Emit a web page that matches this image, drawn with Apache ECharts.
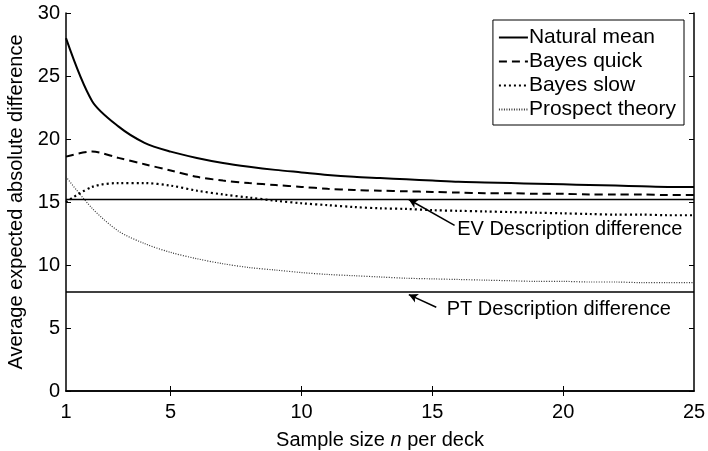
<!DOCTYPE html>
<html lang="en" style="height: 100%">
<head>
    <meta charset="UTF-8">
    <title>Average expected absolute difference</title>
    <style>
        #main{
            width: 708px;
            height: 451px;
        }
    </style>
    <script type="text/javascript" src="https://cdn.jsdelivr.net/npm/echarts@6.0.0/dist/echarts.min.js"></script>
</head>
<body style="margin: 0; background: #fff">
<div id="main"></div>
<script>
    // sample size n per deck
    var sampleSize = [1, 2, 3, 4, 5, 6, 7, 8, 9, 10, 11, 12, 13, 14, 15, 16, 17, 18, 19, 20, 21, 22, 23, 24, 25];

    var naturalMean = [28.0, 23.0, 21.0, 19.7, 19.0, 18.5, 18.1, 17.8, 17.55, 17.35, 17.15, 17.0, 16.9,
        16.8, 16.7, 16.6, 16.55, 16.5, 16.45, 16.4, 16.35, 16.3, 16.25, 16.2, 16.2];
    var bayesQuick = [18.6, 19.0, 18.5, 18.0, 17.5, 17.0, 16.7, 16.5, 16.35, 16.2, 16.05, 15.95, 15.9,
        15.85, 15.8, 15.75, 15.7, 15.7, 15.65, 15.65, 15.6, 15.6, 15.6, 15.55, 15.55];
    var bayesSlow = [15.0, 16.2, 16.5, 16.5, 16.3, 15.9, 15.6, 15.35, 15.1, 14.9, 14.75, 14.6, 14.5,
        14.45, 14.35, 14.3, 14.25, 14.2, 14.15, 14.1, 14.05, 14.0, 14.0, 13.95, 13.95];
    var prospectTheory = [17.0, 14.5, 12.7, 11.7, 11.0, 10.5, 10.1, 9.8, 9.6, 9.4, 9.25, 9.15, 9.05,
        8.95, 8.9, 8.85, 8.8, 8.75, 8.7, 8.7, 8.65, 8.65, 8.6, 8.6, 8.6];

    // horizontal reference levels
    var evDescription = 15.2;
    var ptDescription = 7.85;

    // annotations: [tail, head] of arrow, and where the text starts
    var evArrow = [[15.85, 13.15], [14.1, 15.2]];
    var ptArrow = [[15.15, 6.65], [14.1, 7.65]];
    var evTextAt = [15.95, 12.85];
    var ptTextAt = [15.55, 6.45];

    var xLabelTicks = [1, 5, 10, 15, 20, 25];
    var xInnerTicks = [5, 10, 15, 20];

    var chart = echarts.init(document.getElementById('main'));
    var font = 'Liberation Sans, Arial, Helvetica, sans-serif';

    function pairs(vals) {
        return sampleSize.map(function (n, i) { return [n, vals[i]]; });
    }
    function flat(v) {
        return [[sampleSize[0], v], [sampleSize[sampleSize.length - 1], v]];
    }

    var option = {
        animation: false,
        textStyle: { fontFamily: font, color: '#000' },
        grid: { left: 66, right: 14, top: 13, bottom: 60, containLabel: false, outerBoundsMode: 'none' },
        legend: {
            data: ['Natural mean', 'Bayes quick', 'Bayes slow', 'Prospect theory'],
            orient: 'vertical',
            right: 24,
            top: 20,
            padding: [7, 8, 5, 5],
            itemGap: 3,
            itemWidth: 29,
            itemHeight: 20,
            borderColor: '#000',
            borderWidth: 1,
            backgroundColor: '#fff',
            itemStyle: { opacity: 0 },
            textStyle: { fontSize: 21, color: '#000', fontFamily: font, padding: [0, 0, 0, -4] }
        },
        xAxis: [
            {
                type: 'value',
                min: 1,
                max: 25,
                name: 'Sample size {i|n} per deck',
                nameLocation: 'middle',
                nameGap: 39,
                nameTextStyle: {
                    fontSize: 20, color: '#000', fontFamily: font,
                    rich: { i: { fontSize: 20, fontStyle: 'italic', fontFamily: font } }
                },
                axisLine: { lineStyle: { color: '#000', width: 1.5 } },
                axisTick: { inside: true, length: 5, customValues: xInnerTicks, lineStyle: { color: '#000' } },
                axisLabel: { customValues: xLabelTicks, fontSize: 20, color: '#000', margin: 11 },
                splitLine: { show: false }
            },
            {
                type: 'value',
                position: 'top',
                min: 1,
                max: 25,
                axisLine: { lineStyle: { color: '#000', width: 1.5 } },
                axisTick: { inside: true, length: 5, customValues: xInnerTicks, lineStyle: { color: '#000' } },
                axisLabel: { show: false },
                splitLine: { show: false }
            }
        ],
        yAxis: [
            {
                type: 'value',
                min: 0,
                max: 30,
                interval: 5,
                name: 'Average expected absolute difference',
                nameLocation: 'middle',
                nameGap: 34,
                nameTextStyle: { fontSize: 20, color: '#000', fontFamily: font },
                axisLine: { show: true, lineStyle: { color: '#000', width: 1.5 } },
                axisTick: { show: true, inside: true, length: 5, lineStyle: { color: '#000' } },
                axisLabel: { fontSize: 20, color: '#000', margin: 6 },
                splitLine: { show: false }
            },
            {
                type: 'value',
                position: 'right',
                min: 0,
                max: 30,
                interval: 5,
                axisLine: { show: true, lineStyle: { color: '#000', width: 1.5 } },
                axisTick: { show: true, inside: true, length: 5, lineStyle: { color: '#000' } },
                axisLabel: { show: false },
                splitLine: { show: false }
            }
        ],
        series: [
            {
                name: 'Natural mean',
                type: 'line',
                symbol: 'none',
                smooth: 0.3,
                data: pairs(naturalMean),
                lineStyle: { color: '#000', width: 2 },
                itemStyle: { color: '#000' }
            },
            {
                name: 'Bayes quick',
                type: 'line',
                symbol: 'none',
                smooth: 0.3,
                data: pairs(bayesQuick),
                lineStyle: { color: '#000', width: 2, type: [8, 5] },
                itemStyle: { color: '#000' }
            },
            {
                name: 'Bayes slow',
                type: 'line',
                symbol: 'none',
                smooth: 0.3,
                data: pairs(bayesSlow),
                lineStyle: { color: '#000', width: 2.2, type: [2, 3] },
                itemStyle: { color: '#000' }
            },
            {
                name: 'Prospect theory',
                type: 'line',
                symbol: 'none',
                smooth: 0.3,
                data: pairs(prospectTheory),
                lineStyle: { color: '#333', width: 1.2, type: [1, 1.5] },
                itemStyle: { color: '#333' }
            },
            {
                name: 'EV Description',
                type: 'line',
                symbol: 'none',
                data: flat(evDescription),
                lineStyle: { color: '#000', width: 1.5 },
                markLine: {
                    silent: true,
                    symbol: ['none', 'arrow'],
                    symbolSize: [7, 9],
                    label: { show: false },
                    lineStyle: { color: '#000', width: 1.5, type: 'solid' },
                    data: [[{ coord: evArrow[0] }, { coord: evArrow[1] }]]
                }
            },
            {
                name: 'PT Description',
                type: 'line',
                symbol: 'none',
                data: flat(ptDescription),
                lineStyle: { color: '#000', width: 1.5 },
                markLine: {
                    silent: true,
                    symbol: ['none', 'arrow'],
                    symbolSize: [7, 9],
                    label: { show: false },
                    lineStyle: { color: '#000', width: 1.5, type: 'solid' },
                    data: [[{ coord: ptArrow[0] }, { coord: ptArrow[1] }]]
                }
            },
            {
                name: 'labels',
                type: 'scatter',
                symbolSize: 0,
                silent: true,
                itemStyle: { opacity: 1 },
                data: [
                    { value: evTextAt, label: { formatter: 'EV Description difference' } },
                    { value: ptTextAt, label: { formatter: 'PT Description difference' } }
                ],
                label: {
                    show: true,
                    position: 'right',
                    distance: 0,
                    fontSize: 20,
                    color: '#000',
                    fontFamily: font
                }
            }
        ]
    };

    chart.setOption(option);

    window.onresize = function () {
        chart.resize();
    };
</script>
</body>
</html>
